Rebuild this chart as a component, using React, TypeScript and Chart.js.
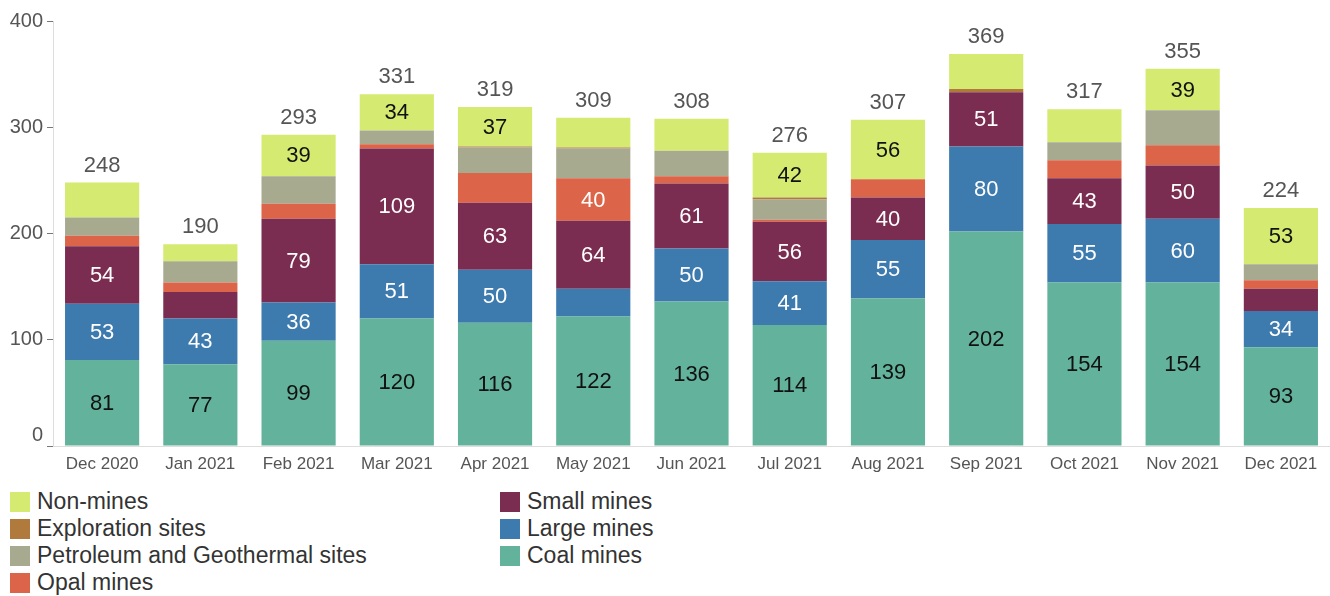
import React, { useEffect, useRef } from "react";
import { Chart, registerables } from "chart.js";

Chart.register(...registerables);

const categories = ["Dec 2020", "Jan 2021", "Feb 2021", "Mar 2021", "Apr 2021", "May 2021", "Jun 2021", "Jul 2021", "Aug 2021", "Sep 2021", "Oct 2021", "Nov 2021", "Dec 2021"];

const coalMines = [81, 77, 99, 120, 116, 122, 136, 114, 139, 202, 154, 154, 93];
const largeMines = [53, 43, 36, 51, 50, 26, 50, 41, 55, 80, 55, 60, 34];
const smallMines = [54, 25, 79, 109, 63, 64, 61, 56, 40, 51, 43, 50, 21];
const opalMines = [10, 9, 14, 4, 28, 40, 7, 2, 17, 0, 17, 19, 8];
const petroleumSites = [17, 20, 26, 13, 24, 28, 24, 19, 0, 0, 17, 33, 15];
const explorationSites = [0, 0, 0, 0, 1, 1, 0, 2, 0, 3, 0, 0, 0];
const nonMines = [33, 16, 39, 34, 37, 28, 30, 42, 56, 33, 31, 39, 53];

const yTicks = [0, 100, 200, 300, 400];

const seriesNames = ["Coal mines", "Large mines", "Small mines", "Opal mines", "Petroleum and Geothermal sites", "Exploration sites", "Non-mines"];
const seriesData = [coalMines, largeMines, smallMines, opalMines, petroleumSites, explorationSites, nonMines];
const seriesColors = ["#63b29b", "#3d7aae", "#7a2d50", "#dc6449", "#a8aa90", "#b07a3c", "#d4ea70"];
const labelColors = ["#111", "#fff", "#fff", "#fff", "#111", "#111", "#111"];

const FONT = "'Liberation Sans', Arial, sans-serif";

const labelPlugin = {
  id: "barLabels",
  afterDatasetsDraw(chart: any) {
    const ctx = chart.ctx;
    ctx.save();
    ctx.textAlign = "center";
    ctx.textBaseline = "middle";
    ctx.font = `22px ${FONT}`;
    chart.data.datasets.forEach((ds: any, di: number) => {
      const meta = chart.getDatasetMeta(di);
      meta.data.forEach((el: any, i: number) => {
        const v = ds.data[i];
        if (v >= 34) {
          ctx.fillStyle = labelColors[di];
          ctx.fillText(String(v), el.x, (el.y + el.base) / 2 + 1);
        }
      });
    });
    // totals
    const lastMeta = chart.getDatasetMeta(chart.data.datasets.length - 1);
    ctx.fillStyle = "#555";
    ctx.font = `22px ${FONT}`;
    categories.forEach((_, i) => {
      const total = seriesData.reduce((s, arr) => s + arr[i], 0);
      const y = chart.scales.y.getPixelForValue(total);
      const x = lastMeta.data[i].x;
      ctx.fillText(String(total), x, y - 17);
    });
    // zero label, drawn above its tick
    const ys = chart.scales.y;
    ctx.textAlign = "right";
    ctx.font = `20px ${FONT}`;
    ctx.fillStyle = "#555";
    ctx.fillText("0", ys.right - 10, ys.getPixelForValue(0) - 11);
    ctx.restore();
  },
};

export default function App() {
  const canvasRef = useRef<HTMLCanvasElement | null>(null);

  useEffect(() => {
    document.body.style.margin = "0";
    const canvas = canvasRef.current;
    if (!canvas) return;
    const chart = new Chart(canvas, {
      type: "bar",
      data: {
        labels: categories,
        datasets: seriesNames.map((name, i) => ({
          label: name,
          data: seriesData[i],
          backgroundColor: seriesColors[i],
          borderWidth: 0,
          categoryPercentage: 1,
          barPercentage: 0.755,
        })),
      },
      options: {
        animation: false,
        responsive: false,
        maintainAspectRatio: false,
        layout: { padding: { top: 21, right: 0, left: 0, bottom: 0 } },
        plugins: { legend: { display: false }, tooltip: { enabled: false } },
        scales: {
          x: {
            stacked: true,
            grid: { display: false, drawTicks: false },
            border: { display: true, color: "#dddddd" },
            ticks: { color: "#555", font: { family: FONT, size: 17 }, padding: 8, maxRotation: 0 },
            afterFit: (s: any) => { s.height = 34; },
          },
          y: {
            stacked: true,
            min: 0,
            max: 400,
            afterBuildTicks: (s: any) => { s.ticks = yTicks.map((v) => ({ value: v })); },
            grid: { drawOnChartArea: false, drawTicks: true, tickLength: 6, tickColor: "#777" },
            border: { display: true, color: "#dddddd" },
            ticks: {
              color: (c: any) => (c.tick && c.tick.value === 0 ? "rgba(0,0,0,0)" : "#555"),
              font: { family: FONT, size: 20 },
              padding: 4,
            },
            afterFit: (s: any) => { s.width = 53; },
          },
        },
      },
      plugins: [labelPlugin],
    });
    return () => chart.destroy();
  }, []);

  const legendOrder = [6, 5, 4, 3, 2, 1, 0];
  const col1 = legendOrder.slice(0, 4);
  const col2 = legendOrder.slice(4);

  const item = (i: number) => (
    <div key={i} style={{ display: "flex", alignItems: "center", height: 27 }}>
      <div style={{ width: 20, height: 20, background: seriesColors[i], marginRight: 7 }} />
      <span style={{ fontFamily: FONT, fontSize: 23, color: "#333", whiteSpace: "nowrap" }}>{seriesNames[i]}</span>
    </div>
  );

  return (
    <div style={{ position: "relative", width: 1330, height: 596 }}>
      <canvas ref={canvasRef} width={1330} height={480} style={{ display: "block" }} />
      <div style={{ position: "absolute", top: 488, left: 10 }}>{col1.map(item)}</div>
      <div style={{ position: "absolute", top: 488, left: 500 }}>{col2.map(item)}</div>
    </div>
  );
}
